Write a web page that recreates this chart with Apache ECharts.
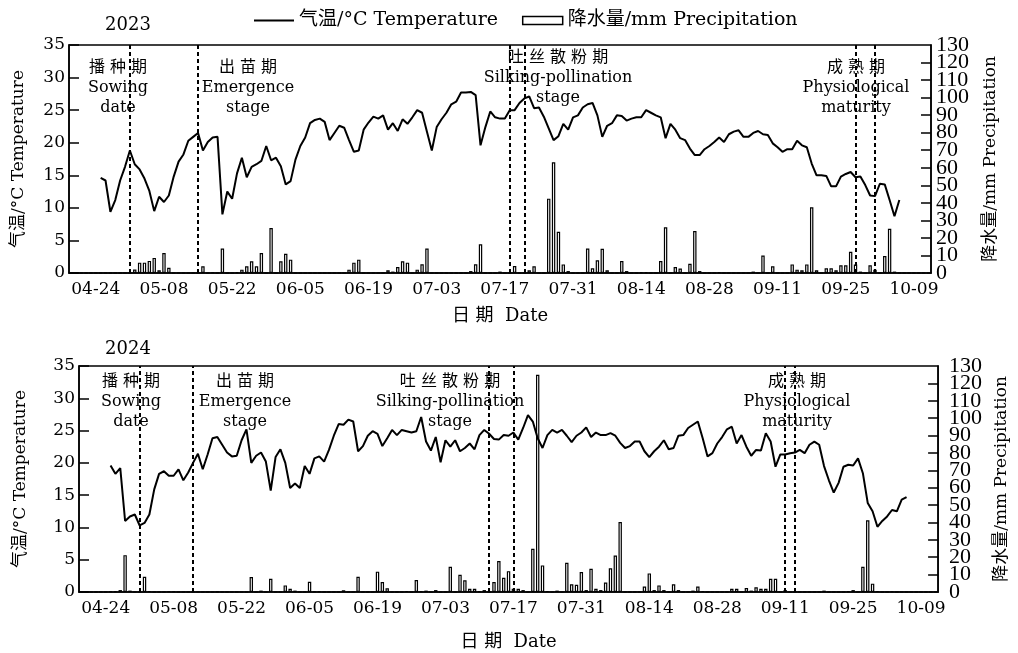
<!DOCTYPE html>
<html><head><meta charset="utf-8">
<script src="https://cdn.jsdelivr.net/npm/echarts@6/dist/echarts.min.js"></script>
<style>html,body{margin:0;padding:0;background:#fff}#c{width:1018px;height:653px}</style>
</head><body><div id="c"></div>
<script>
// ---- categories: daily dates 04-19 .. 10-12 ----
const firstDay = '2023-04-19';
const nDays = 177;
const categories = [];
(function(){ const d0 = new Date(firstDay + 'T00:00:00Z');
  for (let i = 0; i < nDays; i++) { const d = new Date(d0.getTime() + i * 86400000);
    categories.push(String(d.getUTCMonth() + 1).padStart(2, '0') + '-' + String(d.getUTCDate()).padStart(2, '0')); } })();
const tickLabels = ['04-24','05-08','05-22','06-05','06-19','07-03','07-17','07-31','08-14','08-28','09-11','09-25','10-09'];

// ---- 2023 ----
const temp2023 = [null,null,null,null,null,null,
 14.6,14.2,9.4,11.2,14.2,16.3,18.8,16.7,15.9,14.5,
 12.6,9.5,11.7,10.9,11.9,14.8,17.1,18.2,20.3,20.9,
 21.5,18.8,20.1,20.8,20.9,9.0,12.5,11.4,15.3,17.7,
 14.7,16.3,16.7,17.2,19.5,17.3,17.7,16.4,13.6,14.1,
 17.4,19.5,20.8,23.0,23.5,23.7,23.2,20.4,21.5,22.6,
 22.3,20.4,18.6,18.8,22.0,23.1,24.0,23.7,24.2,22.0,
 23.0,21.8,23.6,22.9,23.9,25.0,24.6,21.7,18.8,22.4,
 23.6,24.6,25.9,26.3,27.7,27.7,27.8,27.3,19.6,22.4,
 24.8,23.9,23.7,23.7,25.0,25.0,26.1,26.8,27.1,25.3,
 25.4,24.0,22.2,20.4,21.0,22.9,22.0,23.9,24.2,25.4,
 25.9,26.1,24.2,20.9,22.6,23.0,24.2,24.1,23.4,23.7,
 23.9,23.9,25.0,24.6,24.2,23.9,20.7,22.9,22.0,20.7,
 20.4,19.1,18.1,18.1,19.0,19.5,20.1,20.8,20.1,21.3,
 21.7,21.9,20.9,20.9,21.5,21.8,21.3,21.2,19.9,19.3,
 18.6,19.0,19.0,20.3,19.6,19.3,16.8,15.0,15.0,14.9,
 13.3,13.3,14.8,15.2,15.5,14.7,14.8,13.5,11.9,11.8,
 13.7,13.6,11.2,8.7,11.2];
const prec2023 = [
 0,0,0,0,0,0,0,0,0,0,
 0,0,0,2.0,5.9,5.9,6.9,8.6,1.5,11.4,
 3.0,0,0,0,0,0,0,3.8,0,0.3,
 0,13.9,0,0,0.5,1.9,3.8,6.7,3.8,11.4,
 0,25.7,0,6.7,11.0,7.6,0,0,0,0,
 0,0,0,0,0,0,0,1.9,5.9,7.6,
 0,0,0,0,0,1.5,0.8,3.4,6.7,5.9,
 0,1.9,5.0,13.9,0,0,0,0,0,0,
 0,0,1.1,5.0,16.4,0,0,0,0.8,0,
 0,4.0,0,0,1.5,3.8,0,0,42.4,63.1,
 23.5,4.9,1.1,0,0,0,14.0,2.7,7.2,13.8,
 1.5,0,0,6.8,1.1,0,0,0.5,0.5,0,
 0,6.8,26.1,0,3.4,2.5,0,5.3,23.9,1.1,
 0,0,0,0.5,0,0,0,0,0,0,
 0.8,0,10.0,0,3.8,0,0,0,4.9,1.9,
 1.5,4.9,37.5,1.5,0,2.7,2.7,1.5,4.4,4.4,
 12.1,4.9,0.8,0,4.4,1.9,0,9.7,25.2,0.8,
 0,0,0,0,0,0,0];
const stages2023 = ['05-01','05-15','07-18','07-21','09-27','10-01'];

// ---- 2024 ----
const temp2024 = [null,null,null,null,null,null,
 19.6,18.3,19.2,11.0,11.7,12.0,10.3,10.7,12.0,15.9,
 18.3,18.7,18.0,18.0,19.0,17.3,18.5,20.0,21.4,19.0,
 21.3,23.8,24.0,22.8,21.6,21.0,21.1,23.5,25.2,20.0,
 21.1,21.6,20.2,15.7,20.9,22.1,20.0,16.1,16.8,16.1,
 19.5,18.3,20.7,21.0,20.2,22.0,24.2,26.0,25.9,26.7,
 26.4,21.8,22.6,24.2,24.9,24.5,22.6,23.8,25.1,24.3,
 25.1,24.9,24.7,24.9,27.1,23.3,21.9,24.0,20.1,23.5,
 22.5,23.5,21.8,22.3,23.0,22.1,24.3,25.1,24.5,23.7,
 23.6,24.3,24.2,24.7,23.6,25.4,27.4,26.4,23.8,22.3,
 24.3,25.1,24.7,25.1,24.2,23.2,24.2,24.7,25.5,24.0,
 24.7,24.3,24.3,24.6,24.2,23.1,22.3,22.6,23.3,23.3,
 21.8,20.9,21.8,22.5,23.5,22.1,22.3,24.2,24.3,25.4,
 25.9,26.4,23.8,21.0,21.5,23.0,24.0,25.2,25.6,23.0,
 24.3,22.5,21.1,22.0,21.9,24.6,23.3,19.4,21.3,21.3,
 21.5,21.6,22.0,21.5,22.8,23.3,22.8,19.5,17.3,15.4,
 16.9,19.4,19.7,19.6,20.7,18.4,13.8,12.5,10.1,11.0,
 11.7,12.7,12.5,14.3,14.7];
const prec2024 = [
 0,0,0,0,0,0,0.3,0.5,1.1,21.2,
 0.8,0,0,8.8,0.6,0,0,0,0.3,0.3,
 0,0,0,0,0,0,0,0,0.2,0,
 0,0,0,0,0,8.6,0,0.8,0,7.6,
 0,0,3.8,1.9,0.8,0,0,5.9,0.3,0.3,
 0,0,0,0,1.0,0,0,8.8,0,0,
 0,11.7,5.7,2.1,0,0,0,0.6,0,6.9,
 0.5,0.8,0,1.1,0,0,14.5,0,9.9,6.7,
 1.9,1.9,0.5,1.1,0,5.7,17.8,8.2,12.0,1.9,
 1.9,1.1,0,24.9,124.9,15.3,0.6,0,0.8,0,
 16.8,4.4,4.2,11.5,1.1,13.4,1.9,1.1,5.4,13.6,
 21.0,40.2,0,0,0,0,3.1,10.7,1.1,3.8,
 1.1,0,4.4,1.1,0,0,0.8,3.1,0.6,0,
 0,0,0,0,1.9,1.9,0,2.3,0.8,2.7,
 1.9,1.9,7.6,7.6,0,1.1,0,0,0,0,
 0,0,0,0.8,0,0,0,0,0.5,1.1,
 0,14.5,41.3,4.8,0.6,0,0,0.3,0,0,
 0,0,0,0,0,0,0];
const stages2024 = ['05-01','05-12','07-12','07-17','09-11','09-13'];

const tempTicks = [0, 35, 5];     // min, max, interval
const precTicks = [0, 130, 10];
const stageText = [['播 种 期','Sowing','date'],['出 苗 期','Emergence','stage'],
  ['吐 丝 散 粉 期','Silking-pollination','stage'],['成 熟 期','Physiological','maturity']];
const T_NAME = '气温/°C Temperature', P_NAME = '降水量/mm Precipitation';
const yearNames = ['2023', '2024'];

const SERIF = "'DejaVu Serif','Noto Sans CJK SC',serif";
const SERIF2 = "'Liberation Serif','Noto Sans CJK SC',serif";
const chart = echarts.init(document.getElementById('c'), null, {renderer: 'canvas'});

const grids = [
  {left: 69, right: 87, top: 45, height: 228, show: true, borderColor: '#000', borderWidth: 1.5},
  {left: 79, right: 77, top: 366, height: 226, show: true, borderColor: '#000', borderWidth: 1.5}
];
const xNameGap = [34, 41];
const yNameGapL = [42, 50], yNameGapR = [51, 54];
const rLabelMargin = [5, 11];
const precRich = {a: {fontFamily: SERIF2, fontSize: 22, lineHeight: 14, height: 14, color: '#000'}};

function xAxis(i) {
  return {type: 'category', gridIndex: i, data: categories, boundaryGap: true,
    axisLine: {lineStyle: {color: '#000', width: 1.5}}, axisTick: {show: false},
    axisLabel: {interval: (idx, v) => tickLabels.includes(v), color: '#000', fontFamily: SERIF, fontSize: 17, margin: 8},
    name: '日 期  Date', nameLocation: 'middle', nameGap: xNameGap[i],
    nameTextStyle: {color: '#000', fontFamily: SERIF, fontSize: 18}};
}
function yTemp(i) {
  return {type: 'value', gridIndex: i, position: 'left', min: tempTicks[0], max: tempTicks[1], interval: tempTicks[2],
    axisLine: {show: true, lineStyle: {color: '#000', width: 1.5}},
    axisTick: {show: true, inside: true, length: 10, lineStyle: {color: '#000', width: 1.5}},
    splitLine: {show: false},
    axisLabel: {color: '#000', fontFamily: SERIF, fontSize: 17, margin: 4, showMinLabel: true, showMaxLabel: true},
    name: T_NAME, nameLocation: 'middle', nameRotate: 90, nameGap: yNameGapL[i],
    nameTextStyle: {color: '#000', fontFamily: SERIF, fontSize: 17}};
}
// main precipitation axis: inner tick labels (10..120), ticks, name
function yPrec(i) {
  return {type: 'value', gridIndex: i, position: 'right', min: precTicks[0], max: precTicks[1], interval: precTicks[2],
    axisLine: {show: true, lineStyle: {color: '#000', width: 1.5}},
    axisTick: {show: true, inside: true, length: 10, lineStyle: {color: '#000', width: 1.5}},
    splitLine: {show: false},
    axisLabel: {color: '#000', margin: rLabelMargin[i], formatter: '{a|{value}}', rich: precRich,
      showMinLabel: false, showMaxLabel: false},
    name: P_NAME, nameLocation: 'middle', nameRotate: 90, nameGap: yNameGapR[i],
    nameTextStyle: {color: '#000', fontFamily: SERIF, fontSize: 17}};
}
// companion axis on the same side: only the end labels (0 and 130)
function yPrecEnds(i) {
  return {type: 'value', gridIndex: i, position: 'right', offset: 0, min: precTicks[0], max: precTicks[1], interval: precTicks[2],
    axisLine: {show: false}, axisTick: {show: false}, splitLine: {show: false},
    axisLabel: {color: '#000', margin: rLabelMargin[i], rich: precRich,
      formatter: v => (v === precTicks[0] || v === precTicks[1]) ? '{a|' + v + '}' : '',
      showMinLabel: true, showMaxLabel: true}};
}
function markLines(stages) {
  return {silent: true, symbol: 'none', label: {show: false},
    lineStyle: {color: '#000', width: 2, type: [4, 3]},
    data: stages.map(s => ({xAxis: s}))};
}
function barSeries(i, data) {
  return {name: P_NAME, type: 'bar', xAxisIndex: i, yAxisIndex: i * 3 + 1, data: data, barWidth: 3.4,
    itemStyle: {color: '#fff', borderColor: '#000', borderWidth: 1.2}, z: 2};
}
function lineSeries(i, data, stages) {
  return {name: T_NAME, type: 'line', xAxisIndex: i, yAxisIndex: i * 3, data: data, symbol: 'none',
    connectNulls: false, lineStyle: {color: '#000', width: 2}, itemStyle: {color: '#000'}, z: 3,
    markLine: markLines(stages)};
}
function stageLabel(x, y, k) {
  return {type: 'text', x: x, y: y, z: 10, style: {text: stageText[k].join('\n'), textAlign: 'center',
    textVerticalAlign: 'top', fontFamily: SERIF, fontSize: 16, lineHeight: 20, fill: '#000'}};
}
const graphics = [
  {type: 'text', x: 128, y: 25, style: {text: yearNames[0], textAlign: 'center', textVerticalAlign: 'middle', fontFamily: SERIF, fontSize: 18, fill: '#000'}},
  {type: 'text', x: 128, y: 349, style: {text: yearNames[1], textAlign: 'center', textVerticalAlign: 'middle', fontFamily: SERIF, fontSize: 18, fill: '#000'}},
  stageLabel(118, 58, 0), stageLabel(248, 58, 1), stageLabel(558, 48, 2), stageLabel(856, 58, 3),
  stageLabel(131, 372, 0), stageLabel(245, 372, 1), stageLabel(450, 372, 2), stageLabel(797, 372, 3)
];

chart.setOption({
  animation: false,
  backgroundColor: '#fff',
  legend: {left: 248, top: 6, itemWidth: 40, itemHeight: 8, itemGap: 24,
    textStyle: {color: '#000', fontFamily: SERIF, fontSize: 19},
    data: [{name: T_NAME, itemStyle: {opacity: 0}},
           {name: P_NAME, icon: 'rect', itemStyle: {color: '#fff', borderColor: '#000', borderWidth: 1.5}}]},
  grid: grids,
  xAxis: [xAxis(0), xAxis(1)],
  yAxis: [yTemp(0), yPrec(0), yPrecEnds(0), yTemp(1), yPrec(1), yPrecEnds(1)],
  series: [barSeries(0, prec2023), lineSeries(0, temp2023, stages2023),
           barSeries(1, prec2024), lineSeries(1, temp2024, stages2024)],
  graphic: graphics
});
</script></body></html>
